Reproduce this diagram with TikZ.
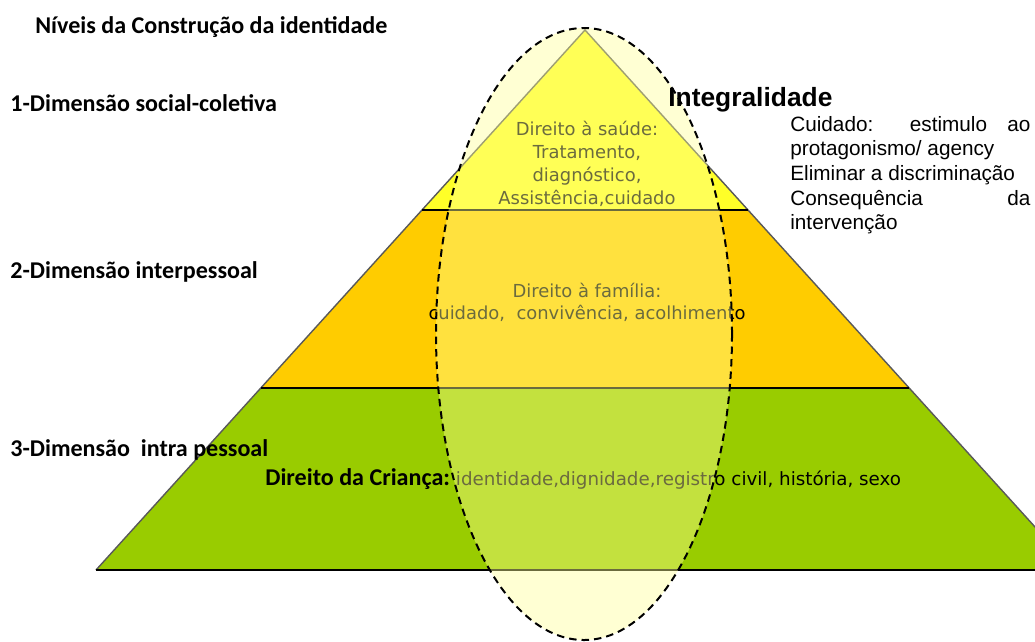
\documentclass[tikz,border=0pt]{standalone}
\usepackage{fontspec}
\setmainfont{Liberation Sans}
\newfontfamily\calfont{Carlito}
\newfontfamily\dvfont{DejaVu Sans}
\usepackage{xcolor}
\usepackage{tikz}
\usetikzlibrary{positioning}

\definecolor{nivelum}{RGB}{255,255,40}
\definecolor{niveldois}{RGB}{255,204,0}
\definecolor{niveltres}{RGB}{153,204,0}
\definecolor{elipsecor}{RGB}{255,255,150}

\begin{document}
\begin{tikzpicture}[x=0.2mm, y=-0.2mm,
    nivel/.style={font=\calfont\bfseries\fontsize{13.7}{16}\selectfont, anchor=west, inner sep=0pt},
    direito/.style={font=\dvfont\fontsize{10.2}{13}\selectfont, align=center, inner sep=0pt},
    lado/.style={draw=black!65, line width=0.8pt},
    faixa/.style={draw=black, line width=0.9pt},
    elipse/.style={fill=elipsecor, fill opacity=0.42, draw=black, dash pattern=on 1.5mm off 1mm, line width=0.4mm}
]
		\useasboundingbox (0,0) rectangle (1035,641);
		\clip (0,0) rectangle (1035,641);
		\fill [niveltres] (261,388) -- (909,388) -- (1074,570) -- (96,570) -- cycle;
		\fill [niveldois] (422,210) -- (748,210) -- (909,388) -- (261,388) -- cycle;
		\fill [nivelum] (585,30) -- (748,210) -- (422,210) -- cycle;
		\draw [lado] (96,570) -- (585,30) -- (1074,570);
		\draw [faixa] (422,210) -- (748,210);
		\draw [faixa] (261,388) -- (909,388);
		\draw [faixa] (96,570) -- (1074,570);
		\node [direito] (saude) at (587,164) {Direito à saúde:\\Tratamento,\\diagnóstico,\\Assistência,cuidado};
		\node [direito, font=\dvfont\fontsize{10.2}{12.5}\selectfont] (familia) at (587,302) {Direito à família:\\cuidado,\ \ convivência, acolhimento};
		\node [anchor=base west, inner sep=0pt] (crianca) at (265,485) {{\calfont\bfseries\fontsize{13.7}{16}\selectfont Direito da Criança:}\hspace{1.2mm}{\dvfont\fontsize{10.4}{13}\selectfont identidade,dignidade,registro civil, história, sexo}};
		\draw [elipse] (584,334) ellipse [x radius=29.6mm, y radius=61.2mm];
		\node [nivel] (titulo) at (35,27) {Níveis da Construção da identidade};
		\node [nivel] (dimum) at (10,103) {1-Dimensão social-coletiva};
		\node [nivel] (dimdois) at (10,272) {2-Dimensão interpessoal};
		\node [nivel] (dimtres) at (10,450) {3-Dimensão\ \ intra pessoal};
		\node [anchor=west, inner sep=0pt, font=\bfseries\fontsize{15}{18}\selectfont] (integral) at (668,100) {Integralidade};
		\node [anchor=north west, inner sep=0pt, text width=48mm, align=justify, font=\fontsize{11.8}{14}\selectfont] (cuidado) at (790,116) {Cuidado: estimulo ao \mbox{protagonismo/} agency\\Eliminar a discriminação\\Consequência da \mbox{intervenção}};
	\end{tikzpicture}
\end{document}
